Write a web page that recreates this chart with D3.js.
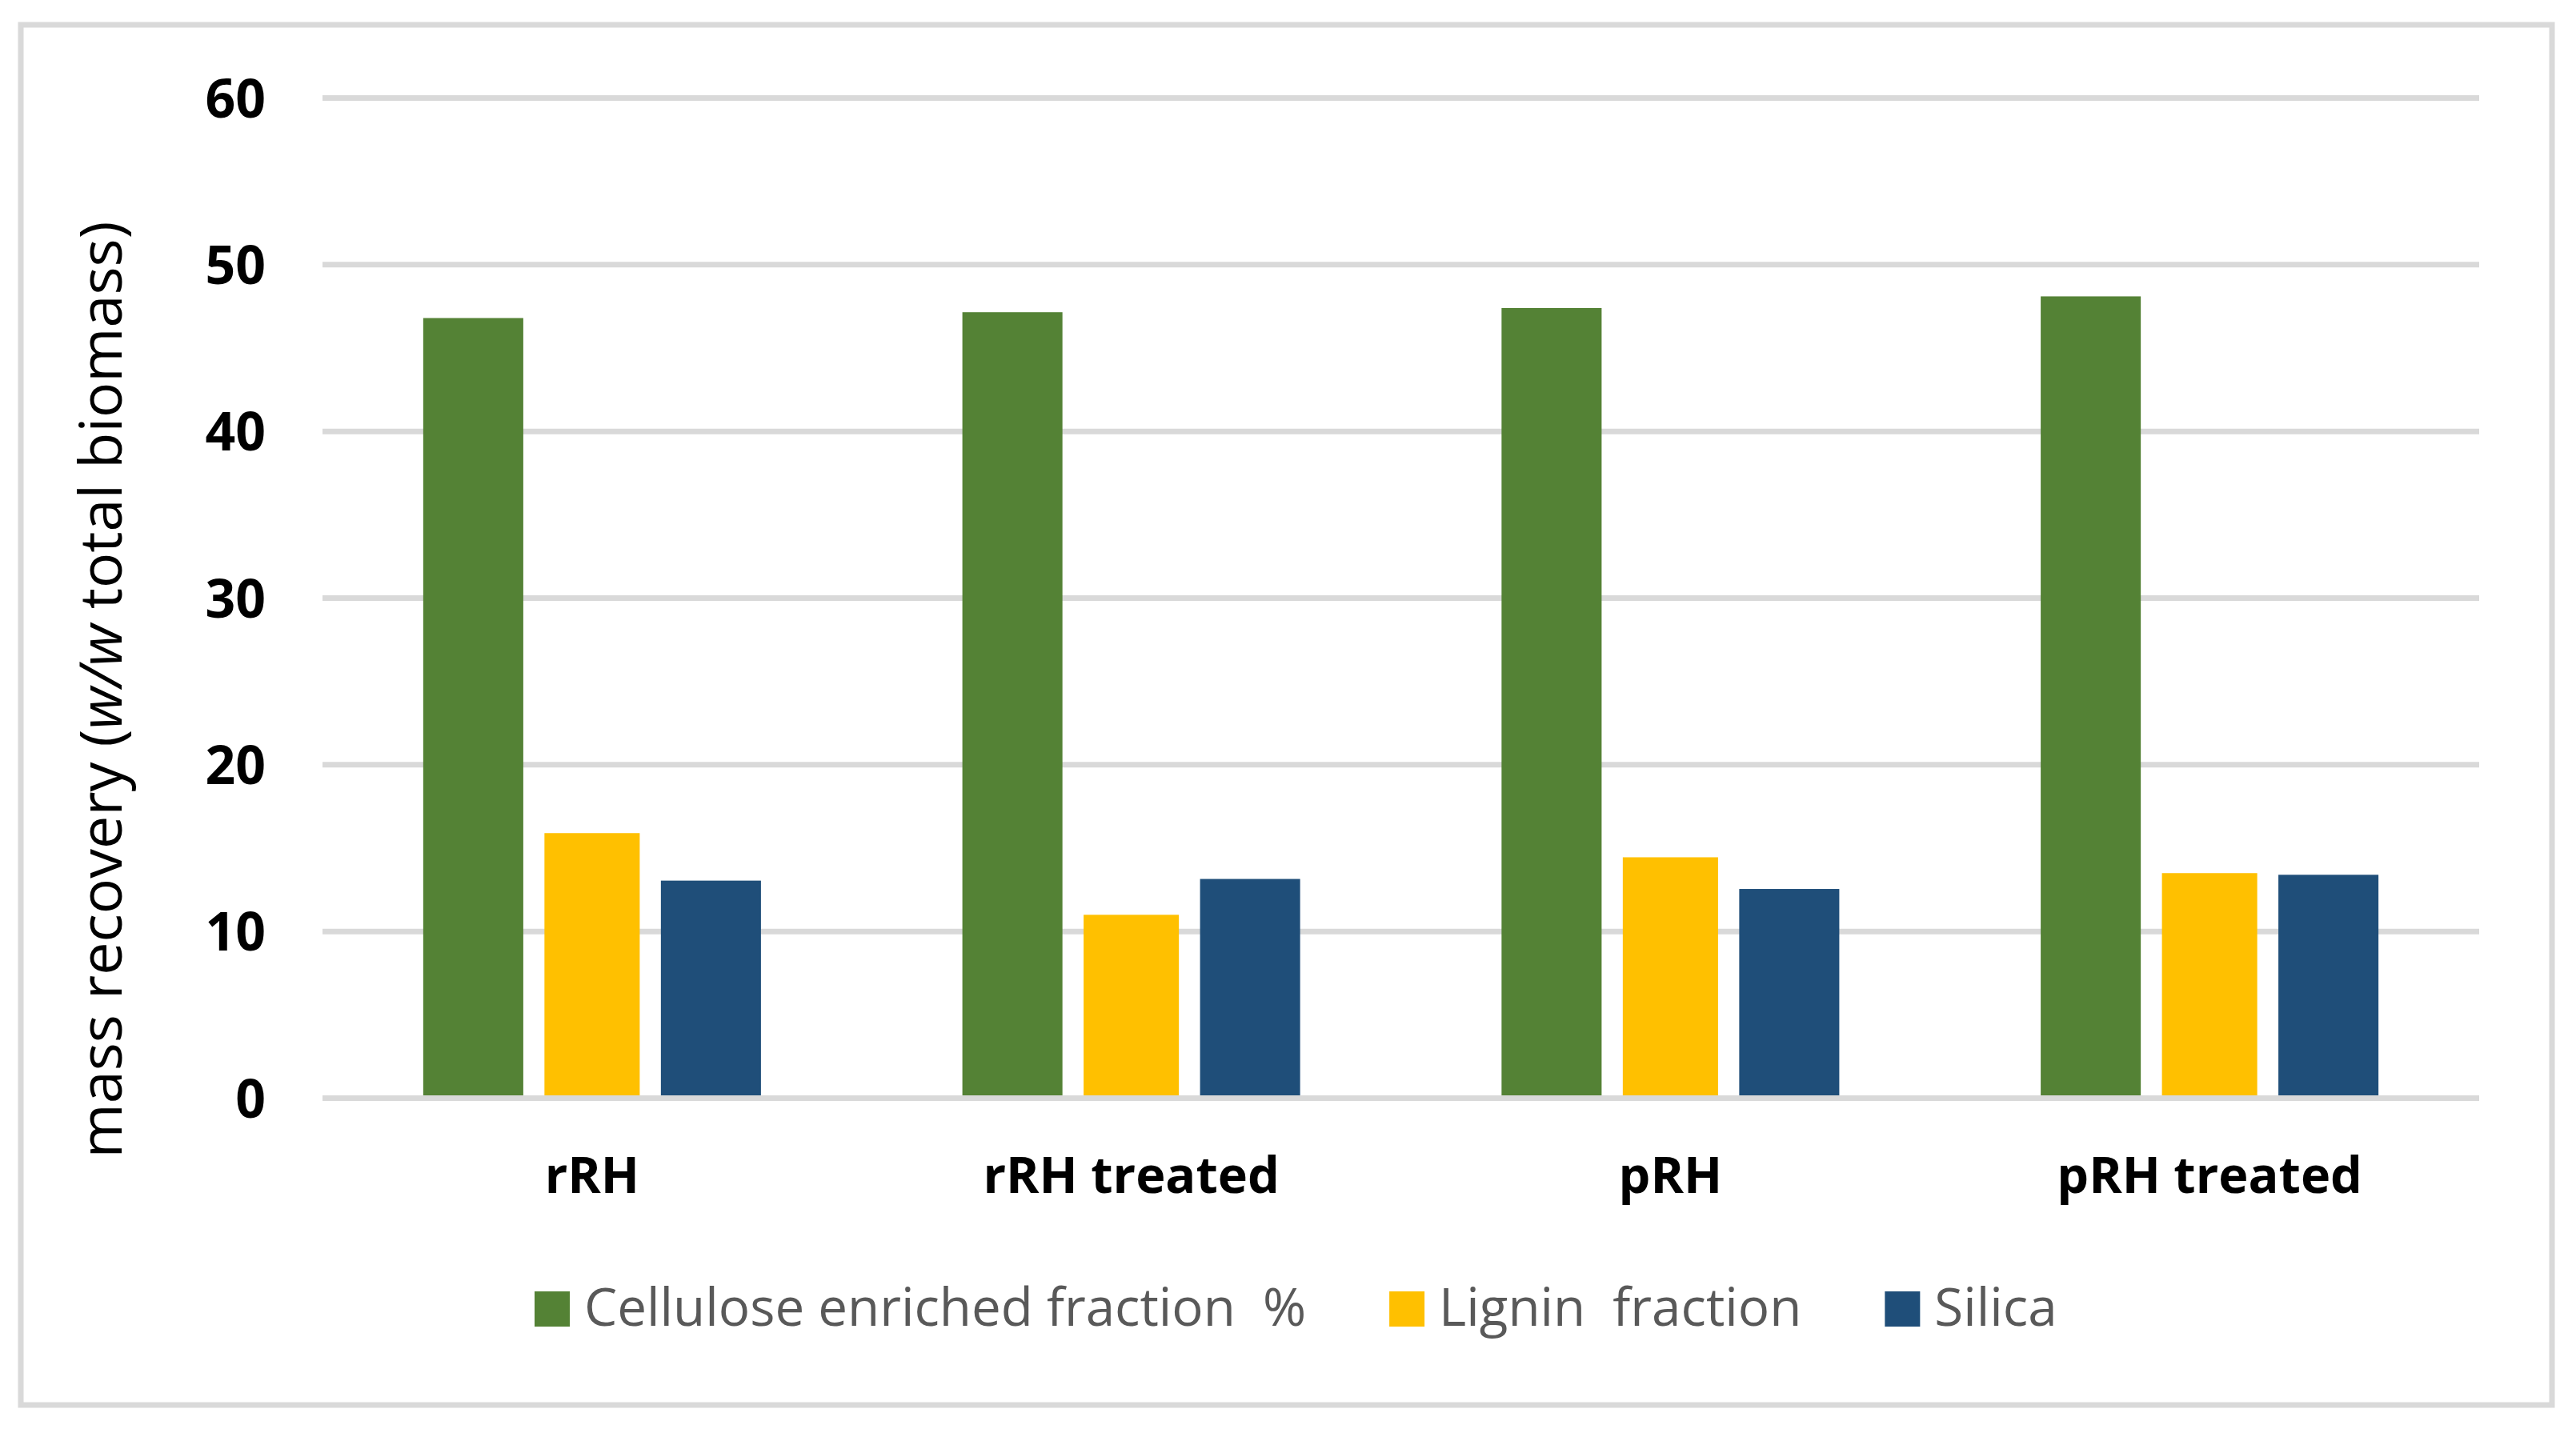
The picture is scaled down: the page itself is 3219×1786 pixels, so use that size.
<!DOCTYPE html>
<html>
<head>
<meta charset="utf-8">
<script src="https://cdn.jsdelivr.net/npm/d3@7"></script>
<style>
  html, body { margin: 0; padding: 0; background: #ffffff; }
  svg { display: block; }
  text { font-family: "Open Sans", "Noto Sans", sans-serif; }
</style>
</head>
<body>
<svg id="chart" width="3219" height="1786"></svg>
<script>
// ---- data ----
const categories = ["rRH", "rRH treated", "pRH", "pRH treated"];
const seriesNames = ["Cellulose enriched fraction  %", "Lignin  fraction", "Silica"];
const cellulose = [46.8, 47.15, 47.4, 48.1];
const lignin = [15.9, 11.0, 14.45, 13.5];
const silica = [13.05, 13.15, 12.55, 13.4];
const yTicks = [0, 10, 20, 30, 40, 50, 60];

const seriesValues = [cellulose, lignin, silica];
const colors = ["#548235", "#FFC000", "#1F4E79"];
const widthInset = [0, 3, 0];

// ---- layout ----
const W = 3219, H = 1786;
const plotLeft = 403, plotRight = 3098;
const plotTop = 122.5, plotBottom = 1372.5;

const svg = d3.select("#chart");
svg.append("rect").attr("width", W).attr("height", H).attr("fill", "#ffffff");

// outer border
svg.append("rect")
  .attr("x", 26).attr("y", 31)
  .attr("width", 3189 - 26).attr("height", 1756 - 31)
  .attr("fill", "none").attr("stroke", "#D9D9D9").attr("stroke-width", 7);

const y = d3.scaleLinear().domain([0, 60]).range([plotBottom, plotTop]);
const x0 = d3.scaleBand().domain(categories).range([plotLeft, plotRight]).paddingInner(0).paddingOuter(0);
const x1 = d3.scaleBand().domain(d3.range(seriesNames.length))
  .range([-222.75, 222.75]).paddingInner(0.158).paddingOuter(0.079);

// gridlines (behind bars), except the zero line
const grid = svg.append("g");
grid.selectAll("line").data(yTicks.filter(d => d !== 0)).join("line")
  .attr("x1", plotLeft).attr("x2", plotRight)
  .attr("y1", d => y(d)).attr("y2", d => y(d))
  .attr("stroke", "#D9D9D9").attr("stroke-width", 7);

// bars
const flat = [];
categories.forEach((c, ci) => {
  seriesValues.forEach((vals, si) => flat.push({ c, si, v: vals[ci] }));
});
svg.append("g").selectAll("rect").data(flat).join("rect")
  .attr("x", d => x0(d.c) + x0.bandwidth() / 2 + x1(d.si) + widthInset[d.si])
  .attr("width", d => x1.bandwidth() - 2 * widthInset[d.si])
  .attr("y", d => y(d.v))
  .attr("height", d => y(0) - y(d.v))
  .attr("fill", d => colors[d.si]);

// zero axis line on top
svg.append("line")
  .attr("x1", plotLeft).attr("x2", plotRight)
  .attr("y1", y(0)).attr("y2", y(0))
  .attr("stroke", "#D9D9D9").attr("stroke-width", 7);

// y tick labels
const yAxis = d3.axisLeft(y).tickValues(yTicks).tickSize(0).tickPadding(0).tickFormat(d3.format("d"));
const yg = svg.append("g").attr("transform", "translate(332,0)").call(yAxis);
yg.select(".domain").remove();
yg.selectAll("text")
  .attr("x", 0).attr("dy", "0.36em")
  .attr("font-family", "'Open Sans', sans-serif")
  .attr("font-size", 66).attr("font-weight", 700).attr("fill", "#000000");

// x labels
const xAxis = d3.axisBottom(x0).tickSize(0).tickPadding(0);
const xg = svg.append("g").attr("transform", "translate(0,1491)").call(xAxis);
xg.select(".domain").remove();
xg.selectAll("text")
  .attr("y", 0).attr("dy", 0)
  .attr("font-family", "'Open Sans', sans-serif")
  .attr("font-size", 63).attr("font-weight", 700).attr("fill", "#000000");

// y axis title
const title = svg.append("text")
  .attr("transform", "translate(152,862) rotate(-90)")
  .attr("text-anchor", "middle")
  .attr("font-size", 73).attr("fill", "#000000")
  .attr("textLength", 1171).attr("lengthAdjust", "spacingAndGlyphs");
title.append("tspan").text("mass recovery (");
title.append("tspan").attr("font-style", "italic").text("w/w");
title.append("tspan").text(" total biomass)");

// legend
const legend = svg.append("g");
let lx = 668;
seriesNames.forEach((name, i) => {
  legend.append("rect")
    .attr("x", lx).attr("y", 1614).attr("width", 44).attr("height", 44)
    .attr("fill", colors[i]);
  const t = legend.append("text")
    .attr("x", lx + 62).attr("y", 1657)
    .attr("font-size", 65.5).attr("fill", "#595959")
    .style("white-space", "pre")
    .attr("xml:space", "preserve")
    .text(name);
  const len = t.node().getComputedTextLength();
  lx = lx + 62 + len + 104;
});
</script>
</body>
</html>
